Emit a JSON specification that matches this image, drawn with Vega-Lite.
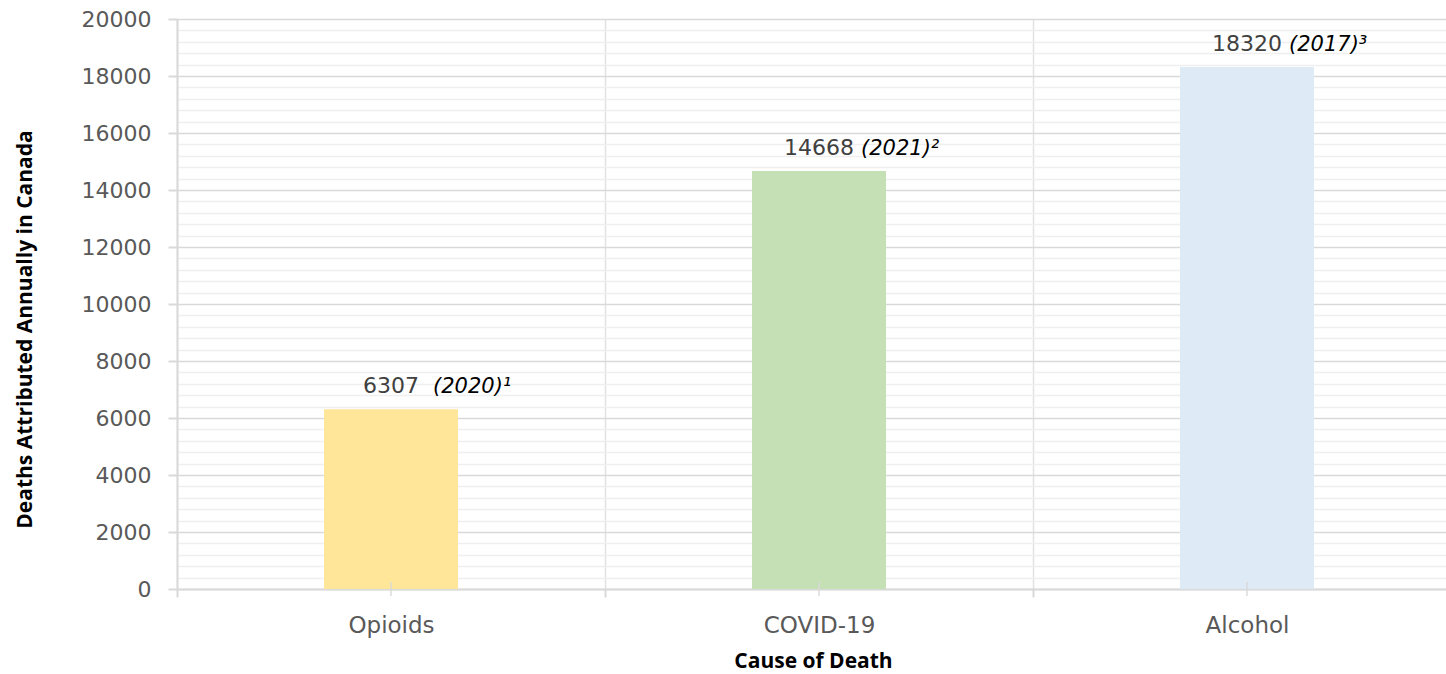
{
  "$schema": "https://vega.github.io/schema/vega-lite/v6.json",
  "width": 1269,
  "height": 570,
  "autosize": "none",
  "padding": {"left": 177, "top": 19, "right": 0, "bottom": 85},
  "background": "white",
  "config": {"view": {"stroke": null}},
  "data": {
    "values": [
      {"cause": "Opioids", "deaths": 6307, "year": "(2020)¹"},
      {"cause": "COVID-19", "deaths": 14668, "year": "(2021)²"},
      {"cause": "Alcohol", "deaths": 18320, "year": "(2017)³"}
    ]
  },
  "encoding": {
    "x": {
      "field": "cause",
      "type": "nominal",
      "sort": null,
      "scale": {"range": [0, 1284], "paddingInner": 0, "paddingOuter": 0},
      "axis": {
        "title": "Cause of Death",
        "tickBand": "extent",
        "grid": true,
        "gridColor": "#e2e2e2",
        "gridWidth": 1.5,
        "domainColor": "#d9d9d9",
        "domainWidth": 2,
        "tickColor": "#d9d9d9",
        "tickWidth": 2,
        "tickSize": 8,
        "labelAngle": 0,
        "labelFont": "DejaVu Sans",
        "labelFontSize": 23,
        "labelColor": "#595959",
        "labelPadding": 17,
        "titleFont": "Open Sans",
        "titleFontSize": 21,
        "titleFontWeight": "bold",
        "titleColor": "#000000",
        "titleX": 636,
        "titleY": 72,
        "titleBaseline": "middle",
        "titleAlign": "center"
      }
    },
    "y": {
      "field": "deaths",
      "type": "quantitative",
      "scale": {"domain": [0, 20000], "nice": false},
      "axis": {
        "title": "Deaths Attributed Annually in Canada",
        "values": [0, 400, 800, 1200, 1600, 2000, 2400, 2800, 3200, 3600, 4000, 4400, 4800, 5200, 5600, 6000, 6400, 6800, 7200, 7600, 8000, 8400, 8800, 9200, 9600, 10000, 10400, 10800, 11200, 11600, 12000, 12400, 12800, 13200, 13600, 14000, 14400, 14800, 15200, 15600, 16000, 16400, 16800, 17200, 17600, 18000, 18400, 18800, 19200, 19600, 20000],
        "format": "d",
        "labelExpr": "datum.value % 2000 === 0 ? datum.label : ''",
        "labelOverlap": false,
        "labelBound": false,
        "grid": true,
        "gridColor": {"condition": {"test": "datum.value % 2000 === 0", "value": "#d9d9d9"}, "value": "#efefef"},
        "gridWidth": 1.5,
        "domainColor": "#d9d9d9",
        "domainWidth": 2,
        "tickColor": "#d9d9d9",
        "tickWidth": 2,
        "tickSize": 9,
        "tickOpacity": {"condition": {"test": "datum.value % 2000 === 0", "value": 1}, "value": 0},
        "labelFont": "DejaVu Sans",
        "labelFontSize": 22,
        "labelColor": "#595959",
        "labelPadding": 17,
        "titleFont": "Open Sans",
        "titleFontSize": 21,
        "titleFontWeight": "bold",
        "titleColor": "#000000",
        "titleX": -152,
        "titleY": 310,
        "titleBaseline": "middle",
        "titleAlign": "center"
      }
    }
  },
  "layer": [
    {
      "mark": {"type": "bar", "width": {"band": 0.313}},
      "encoding": {
        "color": {
          "field": "cause",
          "type": "nominal",
          "scale": {"domain": ["Opioids", "COVID-19", "Alcohol"], "range": ["#FFE699", "#C5E0B4", "#DEEBF7"]},
          "legend": null
        }
      }
    },
    {
      "mark": {"type": "tick", "orient": "vertical", "size": 14, "thickness": 2, "color": "#d9d9d9"},
      "encoding": {"y": {"datum": 0, "type": "quantitative"}}
    },
    {
      "mark": {"type": "text", "align": "center", "baseline": "alphabetic", "dy": -16, "font": "DejaVu Sans", "fontSize": 22, "color": "#404040"},
      "encoding": {"text": {"field": "deaths", "type": "quantitative", "format": "d"}}
    },
    {
      "mark": {"type": "text", "align": "left", "baseline": "alphabetic", "dx": 42, "dy": -16, "font": "DejaVu Sans", "fontStyle": "italic", "fontSize": 21, "color": "#000000"},
      "encoding": {"text": {"field": "year", "type": "nominal"}}
    }
  ]
}
